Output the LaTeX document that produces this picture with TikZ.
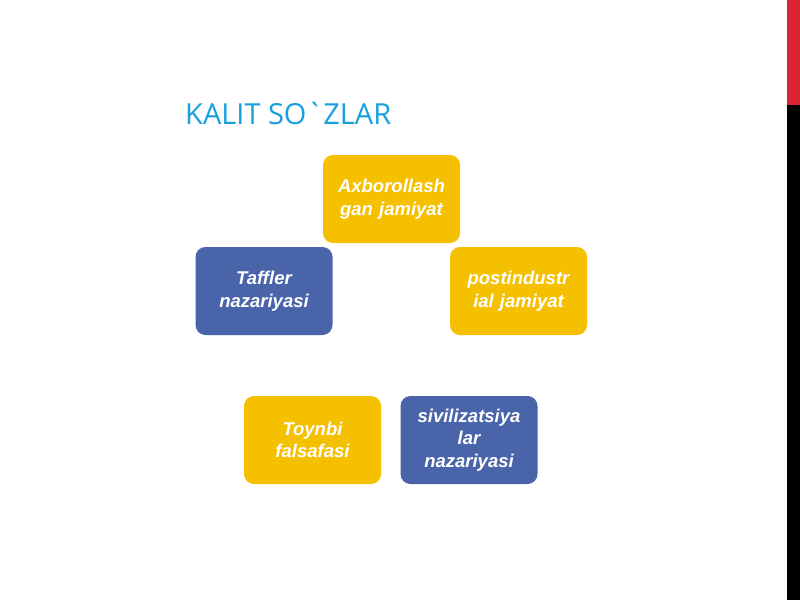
\documentclass[tikz,border=0pt]{standalone}
\usepackage{fontspec}
\setmainfont{Liberation Sans}
\newfontfamily\titlefont{Open Sans}
\definecolor{kyellow}{RGB}{245,192,0}
\definecolor{kblue}{RGB}{74,100,170}
\definecolor{ktitle}{RGB}{24,160,222}
\definecolor{kred}{RGB}{220,36,52}
\tikzset{
  kbox/.style={rounded corners=10pt, minimum width=137pt, minimum height=88pt, text width=134pt, align=center, inner sep=0pt, font=\fontsize{18.5}{22.5}\selectfont\bfseries\itshape, text=white},
  ky/.style={kbox, fill=kyellow},
  kb/.style={kbox, fill=kblue},
}
\begin{document}
\begin{tikzpicture}[x=1pt,y=-1pt]
\useasboundingbox (0,0) rectangle (800,600);
\fill[white] (0,0) rectangle (800,600);
\fill[kred] (787,0) rectangle (800,105);
\fill[black] (787,105) rectangle (800,600);
\node[anchor=base west, inner sep=0pt, text=ktitle, font=\titlefont\fontsize{29}{32}\selectfont] (title) at (185,124) {KALIT SO`ZLAR};
\node[ky] (a) at (391.5,199) {Axborollash\\gan jamiyat};
\node[kb] (t) at (264,291) {Taffler\\nazariyasi};
\node[ky] (p) at (518.5,291) {postindustr\\ial jamiyat};
\node[ky] (y) at (312.5,440) {Toynbi\\falsafasi};
\node[kb] (s) at (469,440) {sivilizatsiya\\lar\\nazariyasi};
\end{tikzpicture}
\end{document}
